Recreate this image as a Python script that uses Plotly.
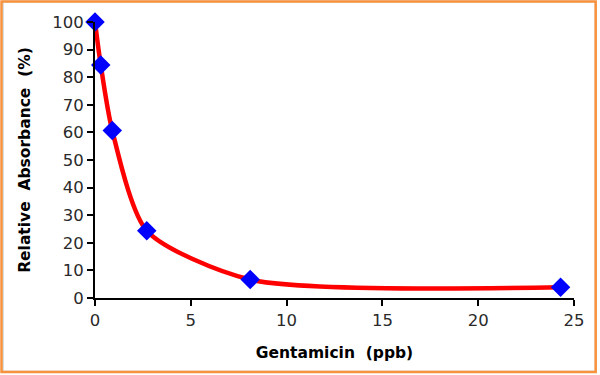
import plotly.graph_objects as go

conc = [0, 0.3, 0.9, 2.7, 8.1, 24.3]
absorb = [100, 84.4, 60.7, 24.4, 6.7, 3.9]

W, H = 600, 375
L, R, T, B = 95, 26, 22, 77
pw, ph = W - L - R, H - T - B
FONT = "DejaVu Sans, Liberation Sans, Arial, sans-serif"

fig = go.Figure()
fig.add_trace(go.Scatter(x=conc, y=absorb, mode="lines",
                         line=dict(color="#FF0000", width=4.5, shape="spline", smoothing=0.7),
                         hoverinfo="skip", showlegend=False))
fig.add_trace(go.Scatter(x=conc, y=absorb, mode="markers",
                         marker=dict(symbol="diamond", size=15, color="#0000FF"),
                         showlegend=False))

fig.update_layout(
    width=W, height=H,
    margin=dict(l=L, r=R, t=T, b=B, autoexpand=False),
    paper_bgcolor="white", plot_bgcolor="white",
    font=dict(family=FONT, size=16.5, color="#2a2a2a"),
    xaxis=dict(range=[0, 25], tickvals=[0, 5, 10, 15, 20, 25], showgrid=False, zeroline=False,
               showline=True, linecolor="black", linewidth=2, ticks="outside", ticklen=6,
               tickwidth=2, tickcolor="black", automargin=False,
               title=dict(text="<b>Gentamicin  (ppb)</b>", font=dict(family=FONT, size=15.5, color="black"), standoff=18)),
    yaxis=dict(range=[0, 100], dtick=10, showgrid=False, zeroline=False,
               showline=True, linecolor="black", linewidth=2, ticks="outside", ticklen=6,
               tickwidth=2, tickcolor="black", automargin=False,
               title=dict(text="<b>Relative  Absorbance  (%)</b>", font=dict(family=FONT, size=15.5, color="black"), standoff=18)),
    shapes=[
        dict(type="rect", xref="paper", yref="paper",
             x0=-(L - 3) / pw, x1=1 + (R - 4.5) / pw,
             y0=-(B - 3.5) / ph, y1=1 + (T - 1.5) / ph,
             line=dict(color="#DDDDDD", width=2), layer="below"),
        dict(type="rect", xref="paper", yref="paper",
             x0=-(L - 1.5) / pw, x1=1 + (R - 4.3) / pw,
             y0=-(B - 3) / ph, y1=1 + (T - 1.5) / ph,
             line=dict(color="#F7923E", width=2.5), layer="below"),
    ],
)
fig.update_traces(cliponaxis=False)

fig.write_html("out.html", config={"displayModeBar": False},
               post_script="document.body.style.margin='0';document.body.style.padding='0';")
